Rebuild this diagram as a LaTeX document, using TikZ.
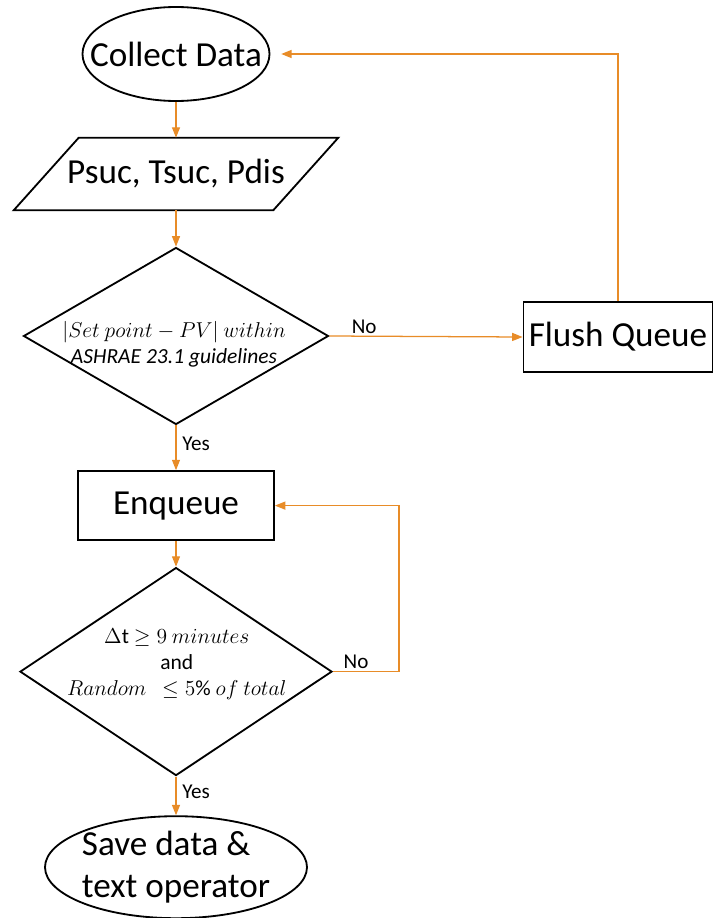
\RequirePackage{fix-cm}
\documentclass[tikz,border=0pt]{standalone}
\usepackage{fontspec}
\setmainfont{Carlito}
\usetikzlibrary{shapes.geometric,arrows.meta,positioning}
\definecolor{linkOrange}{RGB}{232,140,40}

\begin{document}
\begin{tikzpicture}[
    terminal/.style={ellipse, draw, line width=1.3pt, font=\fontsize{25}{30}\selectfont},
    io/.style={rectangle, minimum width=6.475cm, minimum height=1.8cm, font=\fontsize{25}{30}\selectfont},
    process/.style={rectangle, draw, line width=1.3pt, inner xsep=0.1cm, minimum height=1.75cm, font=\fontsize{25}{30}\selectfont},
    decision/.style={diamond, draw, line width=1.3pt, inner sep=0pt},
    cond/.style={align=center, font=\fontsize{15.3}{18.5}\selectfont},
    flow/.style={draw=linkOrange, line width=0.9pt, -{Triangle[length=0.26cm, width=0.2cm]}},
    answer/.style={font=\fontsize{15}{18}\selectfont, inner xsep=4pt, inner ysep=1.5pt}
]
\useasboundingbox (0,0) rectangle (17.8,-22.95);

\node[terminal, inner xsep=-0.5cm, minimum width=4.675cm, minimum height=2.35cm] (collect) at (4.4,-1.35) {Collect Data};
\node[io] (input) at (4.4,-4.35) {Psuc, Tsuc, Pdis};
% slanted outline of the input box
\draw[line width=1.3pt, line join=miter]
    ([xshift=0.8125cm]input.north west) -- ([xshift=0.8125cm]input.north east)
    -- ([xshift=-0.8125cm]input.south east) -- ([xshift=-0.8125cm]input.south west) -- cycle;
\node[decision, minimum width=7.625cm, minimum height=4.425cm] (range) at (4.4,-8.4) {};
\node[cond] (rangeText) at (4.35,-8.6) {$|Set\ point-PV|\ within$\\\textit{ASHRAE 23.1 guidelines}};
\node[process, minimum width=4.725cm] (flush) at (15.45,-8.425) {Flush Queue};
\node[process, minimum width=4.9cm, minimum height=1.725cm] (enqueue) at (4.4,-12.64) {Enqueue};
\node[decision, minimum width=7.8cm, minimum height=5.2cm] (timing) at (4.4,-16.79) {};
\node[cond] (timingText) at (4.42,-16.6) {$\Delta$t $\geq 9\ minutes$\\and\\$Random\ \ \leq 5\%\ of\ total$};
\node[terminal, align=left, inner xsep=-0.05cm, inner ysep=-0.1cm, minimum width=6.55cm, minimum height=2.55cm] (save) at (4.4,-21.68) {Save data \&\\text operator};

% main line
\draw[flow] (collect.south) -- (input.north);
\draw[flow] (input.south) -- (range.north);
\draw[flow] (range.south) -- node[answer, pos=0.4, right] {Yes} (enqueue.north);
\draw[flow] (enqueue.south) -- (timing.north);
\draw[flow] (timing.south) -- node[answer, pos=0.4, right] {Yes} (save.north);

% loops back
\draw[flow] (range.east) -- node[answer, pos=0.18, above] {No} (flush.west);
\draw[flow] (flush.north) |- ([xshift=0.27cm]collect.east);
\draw[flow] (timing.east) -- node[answer, pos=0.35, above] {No} ++(1.65,0) |- (enqueue.east);
\end{tikzpicture}
\end{document}
